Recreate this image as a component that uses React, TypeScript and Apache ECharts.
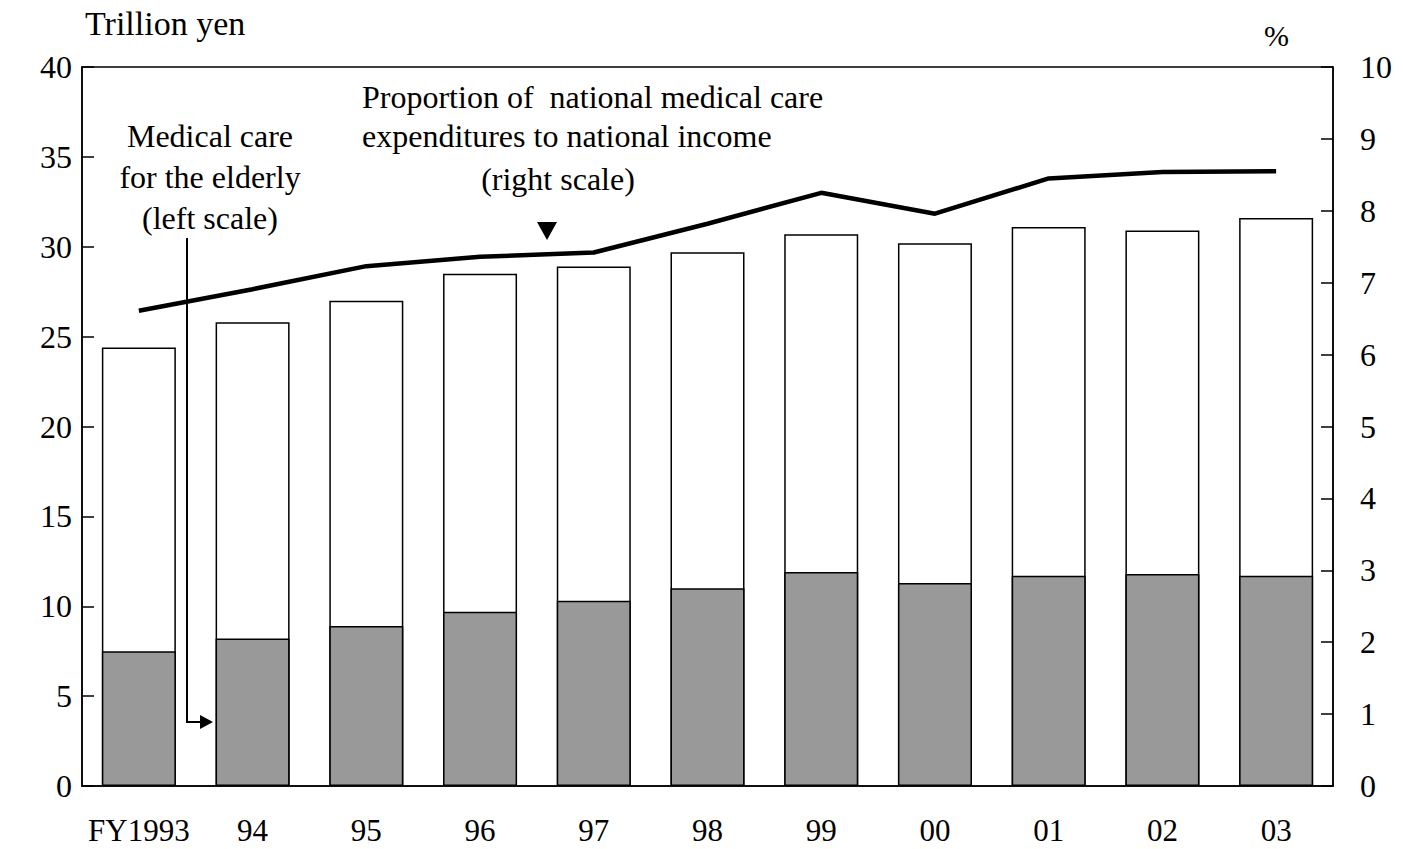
import React, { useEffect, useRef } from "react";
import * as echarts from "echarts";

const categories = ["FY1993", "94", "95", "96", "97", "98", "99", "00", "01", "02", "03"];
const totalExpenditure = [24.4, 25.8, 27.0, 28.5, 28.9, 29.7, 30.7, 30.2, 31.1, 30.9, 31.6];
const elderlyCare = [7.5, 8.2, 8.9, 9.7, 10.3, 11.0, 11.9, 11.3, 11.7, 11.8, 11.7];
const ratioToIncome = [6.61, 6.91, 7.23, 7.36, 7.42, 7.82, 8.25, 7.96, 8.45, 8.54, 8.55];

const FONT = "'Liberation Serif', 'Times New Roman', serif";

export default function App() {
  const ref = useRef<HTMLDivElement>(null);
  useEffect(() => {
    if (!ref.current) return;
    const chart = echarts.init(ref.current, undefined, { renderer: "svg" });
    const txt = { fontFamily: FONT, fontSize: 32, fill: "#000" };
    chart.setOption({
      animation: false,
      backgroundColor: "#fff",
      grid: {
        left: 82,
        right: 70,
        top: 67,
        bottom: 63,
        show: true,
        borderColor: "#000",
        borderWidth: 1.5,
        backgroundColor: "transparent",
      },
      xAxis: {
        type: "category",
        data: categories,
        boundaryGap: true,
        axisLine: { show: true, lineStyle: { color: "#000", width: 1.5 } },
        axisTick: { show: false },
        axisLabel: { color: "#000", fontFamily: FONT, fontSize: 31, margin: 29, interval: 0 },
      },
      yAxis: [
        {
          type: "value",
          min: 0,
          max: 40,
          interval: 5,
          axisLine: { show: true, lineStyle: { color: "#000", width: 1.5 } },
          axisTick: { show: true, inside: true, length: 12, lineStyle: { color: "#000", width: 1.5 } },
          splitLine: { show: false },
          axisLabel: { color: "#000", fontFamily: FONT, fontSize: 32, margin: 10 },
        },
        {
          type: "value",
          min: 0,
          max: 10,
          interval: 1,
          position: "right",
          axisLine: { show: true, lineStyle: { color: "#000", width: 1.5 } },
          axisTick: { show: true, inside: true, length: 12, lineStyle: { color: "#000", width: 1.5 } },
          splitLine: { show: false },
          axisLabel: { color: "#000", fontFamily: FONT, fontSize: 32, margin: 27 },
        },
      ],
      series: [
        {
          name: "National medical care expenditures",
          type: "bar",
          data: totalExpenditure,
          barWidth: 74,
          barGap: "-100%",
          itemStyle: { color: "#fff", borderColor: "#000", borderWidth: 1.5 },
          z: 2,
        },
        {
          name: "Medical care for the elderly",
          type: "bar",
          data: elderlyCare,
          barWidth: 74,
          barGap: "-100%",
          itemStyle: { color: "#999999", borderColor: "#000", borderWidth: 1.5 },
          z: 3,
        },
        {
          name: "Proportion to national income",
          type: "line",
          yAxisIndex: 1,
          data: ratioToIncome,
          symbol: "none",
          lineStyle: { color: "#000", width: 4.5 },
          z: 5,
        },
      ],
      graphic: [
        { type: "text", left: 85, top: 6, style: { ...txt, fontSize: 34, text: "Trillion yen" } },
        { type: "text", left: 1264, top: 20, style: { ...txt, fontSize: 30, text: "%" } },
        {
          type: "text",
          x: 210,
          y: 115,
          style: {
            ...txt,
            text: "Medical care\nfor the elderly\n(left scale)",
            align: "center",
            lineHeight: 41,
          },
        },
        { type: "text", x: 362, y: 81, style: { ...txt, text: "Proportion of  national medical care" } },
        { type: "text", x: 362, y: 120, style: { ...txt, text: "expenditures to national income" } },
        { type: "text", x: 558, y: 163, style: { ...txt, text: "(right scale)", align: "center" } },
        {
          type: "polygon",
          shape: { points: [[537, 222], [557, 222], [547, 240]] },
          style: { fill: "#000" },
          z: 10,
        },
        {
          type: "polyline",
          shape: { points: [[187, 238], [187, 722], [204, 722]] },
          style: { stroke: "#000", lineWidth: 2, fill: null },
          z: 10,
        },
        {
          type: "polygon",
          shape: { points: [[200, 715], [213, 722], [200, 729]] },
          style: { fill: "#000" },
          z: 10,
        },
      ],
    });
    return () => chart.dispose();
  }, []);
  return (
    <div
      ref={ref}
      style={{ position: "fixed", left: 0, top: 0, width: 1403, height: 849, background: "#fff" }}
    />
  );
}
